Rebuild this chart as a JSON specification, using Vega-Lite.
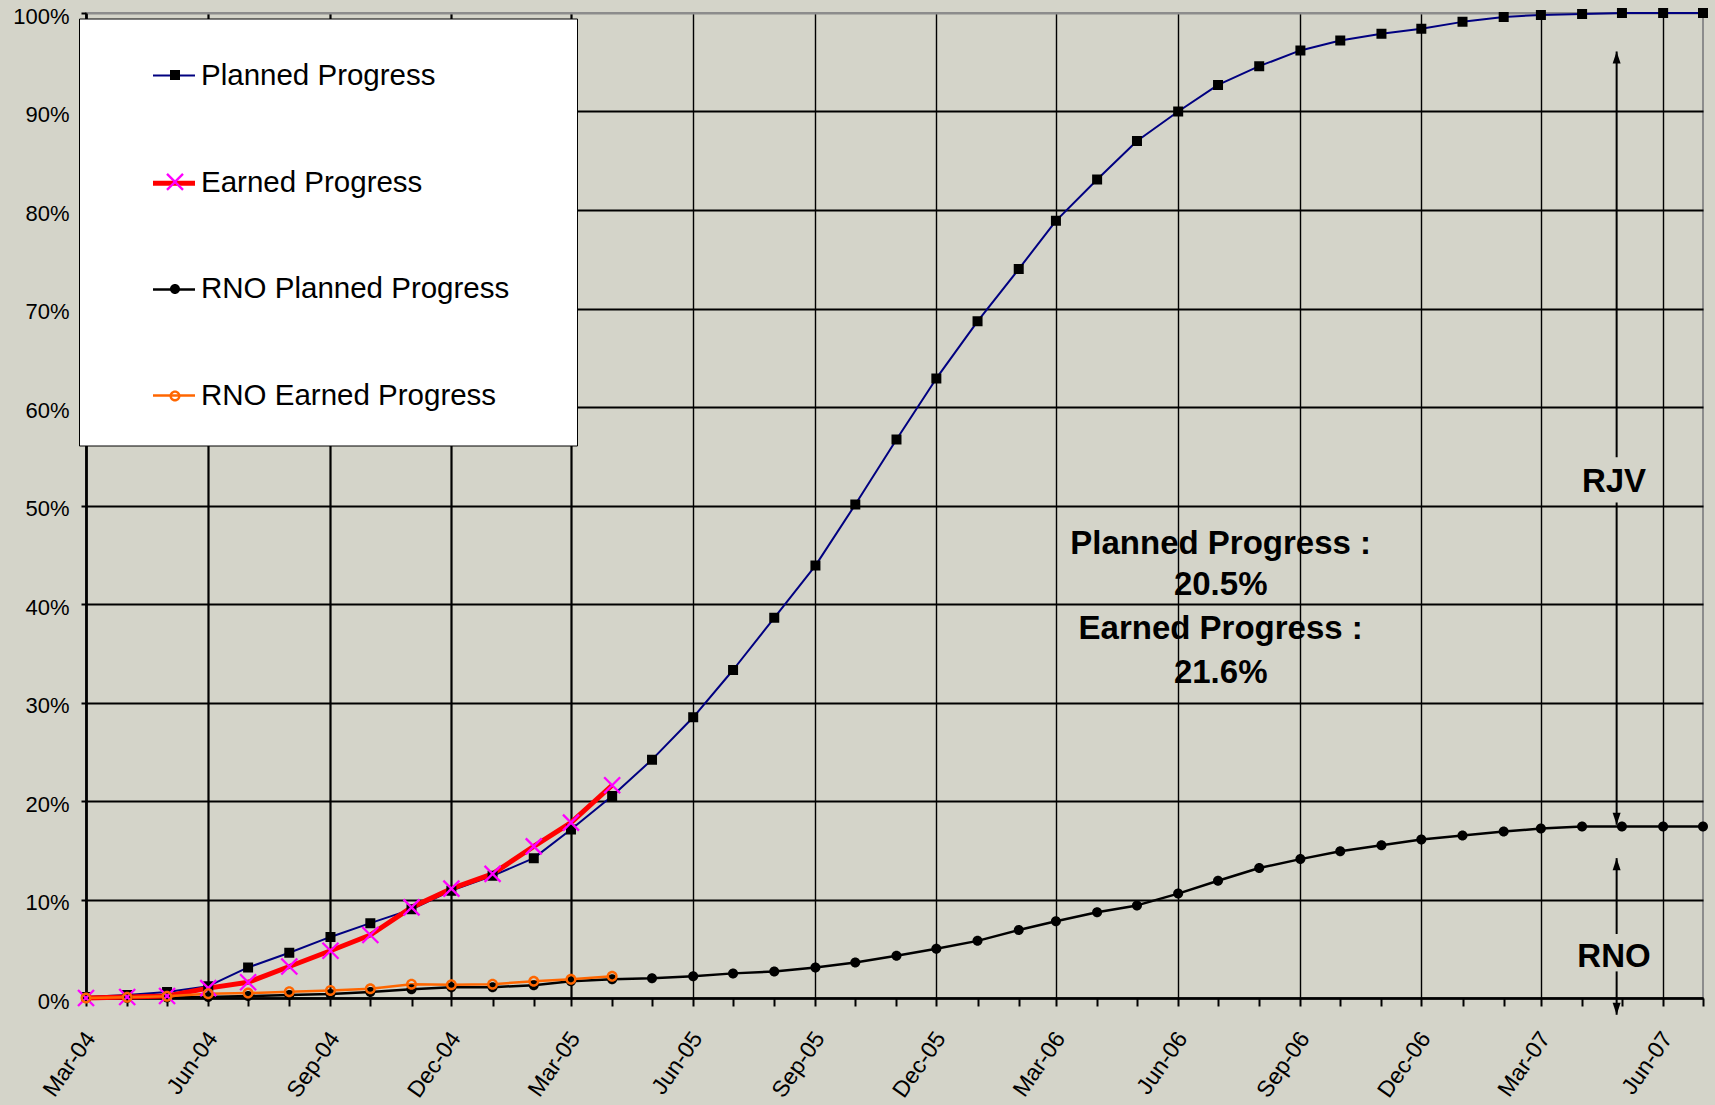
{
  "$schema": "https://vega.github.io/schema/vega-lite/v6.json",
  "width": 1617,
  "height": 985,
  "autosize": {"type": "none"},
  "padding": {"left": 86, "top": 13, "right": 12, "bottom": 107},
  "background": "#d4d4c9",
  "config": {
    "view": {"fill": "#d4d4c9", "stroke": "#8c8c8c", "strokeWidth": 2},
    "font": "Liberation Sans",
    "axis": {"labelFont": "Liberation Sans", "labelColor": "black"}
  },
  "datasets": {
    "series": [
      {"date": "2004-03-01", "series": "Planned Progress", "value": 0.001},
      {"date": "2004-04-01", "series": "Planned Progress", "value": 0.003},
      {"date": "2004-05-01", "series": "Planned Progress", "value": 0.006},
      {"date": "2004-06-01", "series": "Planned Progress", "value": 0.012},
      {"date": "2004-07-01", "series": "Planned Progress", "value": 0.031},
      {"date": "2004-08-01", "series": "Planned Progress", "value": 0.046},
      {"date": "2004-09-01", "series": "Planned Progress", "value": 0.062},
      {"date": "2004-10-01", "series": "Planned Progress", "value": 0.076},
      {"date": "2004-11-01", "series": "Planned Progress", "value": 0.090},
      {"date": "2004-12-01", "series": "Planned Progress", "value": 0.109},
      {"date": "2005-01-01", "series": "Planned Progress", "value": 0.124},
      {"date": "2005-02-01", "series": "Planned Progress", "value": 0.142},
      {"date": "2005-03-01", "series": "Planned Progress", "value": 0.171},
      {"date": "2005-04-01", "series": "Planned Progress", "value": 0.205},
      {"date": "2005-05-01", "series": "Planned Progress", "value": 0.242},
      {"date": "2005-06-01", "series": "Planned Progress", "value": 0.285},
      {"date": "2005-07-01", "series": "Planned Progress", "value": 0.333},
      {"date": "2005-08-01", "series": "Planned Progress", "value": 0.386},
      {"date": "2005-09-01", "series": "Planned Progress", "value": 0.439},
      {"date": "2005-10-01", "series": "Planned Progress", "value": 0.501},
      {"date": "2005-11-01", "series": "Planned Progress", "value": 0.567},
      {"date": "2005-12-01", "series": "Planned Progress", "value": 0.629},
      {"date": "2006-01-01", "series": "Planned Progress", "value": 0.687},
      {"date": "2006-02-01", "series": "Planned Progress", "value": 0.740},
      {"date": "2006-03-01", "series": "Planned Progress", "value": 0.789},
      {"date": "2006-04-01", "series": "Planned Progress", "value": 0.831},
      {"date": "2006-05-01", "series": "Planned Progress", "value": 0.870},
      {"date": "2006-06-01", "series": "Planned Progress", "value": 0.900},
      {"date": "2006-07-01", "series": "Planned Progress", "value": 0.927},
      {"date": "2006-08-01", "series": "Planned Progress", "value": 0.946},
      {"date": "2006-09-01", "series": "Planned Progress", "value": 0.962},
      {"date": "2006-10-01", "series": "Planned Progress", "value": 0.972},
      {"date": "2006-11-01", "series": "Planned Progress", "value": 0.979},
      {"date": "2006-12-01", "series": "Planned Progress", "value": 0.984},
      {"date": "2007-01-01", "series": "Planned Progress", "value": 0.991},
      {"date": "2007-02-01", "series": "Planned Progress", "value": 0.996},
      {"date": "2007-03-01", "series": "Planned Progress", "value": 0.998},
      {"date": "2007-04-01", "series": "Planned Progress", "value": 0.999},
      {"date": "2007-05-01", "series": "Planned Progress", "value": 1.0},
      {"date": "2007-06-01", "series": "Planned Progress", "value": 1.0},
      {"date": "2007-07-01", "series": "Planned Progress", "value": 1.0},
      {"date": "2004-03-01", "series": "RNO Planned Progress", "value": 0.0},
      {"date": "2004-04-01", "series": "RNO Planned Progress", "value": 0.0},
      {"date": "2004-05-01", "series": "RNO Planned Progress", "value": 0.0005},
      {"date": "2004-06-01", "series": "RNO Planned Progress", "value": 0.001},
      {"date": "2004-07-01", "series": "RNO Planned Progress", "value": 0.002},
      {"date": "2004-08-01", "series": "RNO Planned Progress", "value": 0.003},
      {"date": "2004-09-01", "series": "RNO Planned Progress", "value": 0.004},
      {"date": "2004-10-01", "series": "RNO Planned Progress", "value": 0.006},
      {"date": "2004-11-01", "series": "RNO Planned Progress", "value": 0.009},
      {"date": "2004-12-01", "series": "RNO Planned Progress", "value": 0.011},
      {"date": "2005-01-01", "series": "RNO Planned Progress", "value": 0.011},
      {"date": "2005-02-01", "series": "RNO Planned Progress", "value": 0.013},
      {"date": "2005-03-01", "series": "RNO Planned Progress", "value": 0.017},
      {"date": "2005-04-01", "series": "RNO Planned Progress", "value": 0.019},
      {"date": "2005-05-01", "series": "RNO Planned Progress", "value": 0.020},
      {"date": "2005-06-01", "series": "RNO Planned Progress", "value": 0.022},
      {"date": "2005-07-01", "series": "RNO Planned Progress", "value": 0.025},
      {"date": "2005-08-01", "series": "RNO Planned Progress", "value": 0.027},
      {"date": "2005-09-01", "series": "RNO Planned Progress", "value": 0.031},
      {"date": "2005-10-01", "series": "RNO Planned Progress", "value": 0.036},
      {"date": "2005-11-01", "series": "RNO Planned Progress", "value": 0.043},
      {"date": "2005-12-01", "series": "RNO Planned Progress", "value": 0.050},
      {"date": "2006-01-01", "series": "RNO Planned Progress", "value": 0.058},
      {"date": "2006-02-01", "series": "RNO Planned Progress", "value": 0.069},
      {"date": "2006-03-01", "series": "RNO Planned Progress", "value": 0.078},
      {"date": "2006-04-01", "series": "RNO Planned Progress", "value": 0.087},
      {"date": "2006-05-01", "series": "RNO Planned Progress", "value": 0.094},
      {"date": "2006-06-01", "series": "RNO Planned Progress", "value": 0.106},
      {"date": "2006-07-01", "series": "RNO Planned Progress", "value": 0.119},
      {"date": "2006-08-01", "series": "RNO Planned Progress", "value": 0.132},
      {"date": "2006-09-01", "series": "RNO Planned Progress", "value": 0.141},
      {"date": "2006-10-01", "series": "RNO Planned Progress", "value": 0.149},
      {"date": "2006-11-01", "series": "RNO Planned Progress", "value": 0.155},
      {"date": "2006-12-01", "series": "RNO Planned Progress", "value": 0.161},
      {"date": "2007-01-01", "series": "RNO Planned Progress", "value": 0.165},
      {"date": "2007-02-01", "series": "RNO Planned Progress", "value": 0.169},
      {"date": "2007-03-01", "series": "RNO Planned Progress", "value": 0.172},
      {"date": "2007-04-01", "series": "RNO Planned Progress", "value": 0.174},
      {"date": "2007-05-01", "series": "RNO Planned Progress", "value": 0.174},
      {"date": "2007-06-01", "series": "RNO Planned Progress", "value": 0.174},
      {"date": "2007-07-01", "series": "RNO Planned Progress", "value": 0.174},
      {"date": "2004-03-01", "series": "Earned Progress", "value": 0.0},
      {"date": "2004-04-01", "series": "Earned Progress", "value": 0.001},
      {"date": "2004-05-01", "series": "Earned Progress", "value": 0.002},
      {"date": "2004-06-01", "series": "Earned Progress", "value": 0.010},
      {"date": "2004-07-01", "series": "Earned Progress", "value": 0.016},
      {"date": "2004-08-01", "series": "Earned Progress", "value": 0.032},
      {"date": "2004-09-01", "series": "Earned Progress", "value": 0.048},
      {"date": "2004-10-01", "series": "Earned Progress", "value": 0.064},
      {"date": "2004-11-01", "series": "Earned Progress", "value": 0.092},
      {"date": "2004-12-01", "series": "Earned Progress", "value": 0.111},
      {"date": "2005-01-01", "series": "Earned Progress", "value": 0.126},
      {"date": "2005-02-01", "series": "Earned Progress", "value": 0.154},
      {"date": "2005-03-01", "series": "Earned Progress", "value": 0.178},
      {"date": "2005-04-01", "series": "Earned Progress", "value": 0.216},
      {"date": "2004-03-01", "series": "RNO Earned Progress", "value": 0.0},
      {"date": "2004-04-01", "series": "RNO Earned Progress", "value": 0.0007},
      {"date": "2004-05-01", "series": "RNO Earned Progress", "value": 0.0017},
      {"date": "2004-06-01", "series": "RNO Earned Progress", "value": 0.0044},
      {"date": "2004-07-01", "series": "RNO Earned Progress", "value": 0.005},
      {"date": "2004-08-01", "series": "RNO Earned Progress", "value": 0.0064},
      {"date": "2004-09-01", "series": "RNO Earned Progress", "value": 0.0077},
      {"date": "2004-10-01", "series": "RNO Earned Progress", "value": 0.0094},
      {"date": "2004-11-01", "series": "RNO Earned Progress", "value": 0.014},
      {"date": "2004-12-01", "series": "RNO Earned Progress", "value": 0.0135},
      {"date": "2005-01-01", "series": "RNO Earned Progress", "value": 0.014},
      {"date": "2005-02-01", "series": "RNO Earned Progress", "value": 0.017},
      {"date": "2005-03-01", "series": "RNO Earned Progress", "value": 0.019},
      {"date": "2005-04-01", "series": "RNO Earned Progress", "value": 0.022}
    ],
    "arrows": [
      {"date": "2007-04-27", "y1": 0.549, "y2": 0.961, "tip": 0.961, "head": "up"},
      {"date": "2007-04-27", "y1": 0.176, "y2": 0.503, "tip": 0.176, "head": "down"},
      {"date": "2007-04-27", "y1": 0.065, "y2": 0.142, "tip": 0.142, "head": "up"},
      {"date": "2007-04-27", "y1": -0.017, "y2": 0.027, "tip": -0.017, "head": "down"}
    ],
    "notes": [
      {"date": "2006-07-03", "y": 0.461, "text": "Planned Progress :"},
      {"date": "2006-07-03", "y": 0.419, "text": "20.5%"},
      {"date": "2006-07-03", "y": 0.375, "text": "Earned Progress :"},
      {"date": "2006-07-03", "y": 0.330, "text": "21.6%"},
      {"date": "2007-04-25", "y": 0.524, "text": "RJV"},
      {"date": "2007-04-25", "y": 0.042, "text": "RNO"}
    ]
  },
  "layer": [
    {
      "data": {"name": "series"},
      "mark": {"type": "line", "strokeJoin": "round"},
      "encoding": {
        "x": {
          "field": "date", "type": "temporal",
          "scale": {"type": "utc", "domain": [{"year": 2004, "month": 3, "date": 1, "utc": true}, {"year": 2007, "month": 7, "date": 1, "utc": true}]},
          "axis": {
            "title": null,
            "tickCount": {"interval": "month", "step": 1},
            "labelExpr": "utcmonth(datum.value) % 3 == 2 ? utcFormat(datum.value, '%b-%y') : ''",
            "labelOverlap": false,
            "labelAngle": -55,
            "labelFontSize": 23,
            "labelPadding": 28,
            "labelOffset": 4,
            "labelColor": "black",
            "domainColor": "black",
            "domainWidth": 2.5,
            "tickColor": "black",
            "tickWidth": 2,
            "tickSize": 8,
            "grid": true,
            "gridColor": "black",
            "gridOpacity": {"condition": {"test": "utcmonth(datum.value) % 3 == 2", "value": 1}, "value": 0},
            "gridWidth": {"condition": {"test": "datum.value < utc(2005, 3, 15)", "value": 2.2}, "value": 1.4}
          }
        },
        "y": {
          "field": "value", "type": "quantitative",
          "scale": {"domain": [0, 1], "nice": false, "zero": false},
          "axis": {
            "title": null,
            "values": [0, 0.1, 0.2, 0.3, 0.4, 0.5, 0.6, 0.7, 0.8, 0.9, 1],
            "format": ".0%",
            "labelFontSize": 22,
            "labelPadding": 12,
            "labelOffset": 3,
            "labelColor": "black",
            "tickSize": 5,
            "tickWidth": 2,
            "tickColor": "black",
            "domainColor": "black",
            "domainWidth": 2.5,
            "grid": true,
            "gridWidth": 2,
            "gridColor": {"condition": {"test": "datum.value >= 1", "value": "#8c8c8c"}, "value": "black"}
          }
        },
        "stroke": {
          "field": "series", "type": "nominal",
          "scale": {"domain": ["Planned Progress", "Earned Progress", "RNO Planned Progress", "RNO Earned Progress"], "range": ["#000080", "#ff0000", "#000000", "#ff6600"]},
          "legend": {
            "orient": "none", "legendX": -7, "legendY": 5.5,
            "title": "_", "titleOrient": "right", "titleFontSize": 12, "titleOpacity": 0, "titlePadding": 25.5,
            "fillColor": "white", "strokeColor": "black",
            "padding": 35, "rowPadding": 69.2,
            "symbolType": "stroke", "symbolSize": 1764, "symbolOffset": 36.5,
            "labelOffset": 3.5, "labelFontSize": 29.5, "labelFont": "Liberation Sans", "labelColor": "black", "labelLimit": 0,
            "zindex": 1
          }
        },
        "strokeWidth": {
          "field": "series", "type": "nominal",
          "scale": {"type": "ordinal", "domain": ["Planned Progress", "Earned Progress", "RNO Planned Progress", "RNO Earned Progress"], "range": [2, 5, 2.5, 2.5]},
          "legend": {
            "orient": "none", "legendX": -7, "legendY": 5.5,
            "title": "_", "titleOrient": "right", "titleFontSize": 12, "titleOpacity": 0, "titlePadding": 25.5,
            "fillColor": "white", "strokeColor": "black",
            "padding": 35, "rowPadding": 69.2,
            "symbolType": "stroke", "symbolSize": 1764, "symbolOffset": 36.5,
            "labelOffset": 3.5, "labelFontSize": 29.5, "labelFont": "Liberation Sans", "labelColor": "black", "labelLimit": 0,
            "zindex": 1
          }
        }
      }
    },
    {
      "data": {"name": "series"},
      "mark": {"type": "point", "filled": true, "size": 100, "opacity": 1, "strokeWidth": 0},
      "encoding": {
        "x": {"field": "date", "type": "temporal"},
        "y": {"field": "value", "type": "quantitative"},
        "shape": {
          "field": "series", "type": "nominal",
          "scale": {
            "domain": ["Earned Progress", "Planned Progress", "RNO Earned Progress", "RNO Planned Progress"],
            "range": [
              "M-1.437,-1.763L1.763,1.437L1.437,1.763L-1.763,-1.437ZM-1.763,1.437L1.437,-1.763L1.763,-1.437L-1.437,1.763Z",
              "M-1,-1H1V1H-1ZM0,-1.763L0,-1.763ZM0,1.763L0,1.763Z",
              "M-1.1,0A1.1 1.1 0 1 1 1.1,0A1.1 1.1 0 1 1 -1.1,0ZM-0.62,0A0.62 0.62 0 1 0 0.62,0A0.62 0.62 0 1 0 -0.62,0ZM0,-1.763L0,-1.763ZM0,1.763L0,1.763Z",
              "M-1,0A1 1 0 1 1 1,0A1 1 0 1 1 -1,0ZM0,-1.763L0,-1.763ZM0,1.763L0,1.763Z"
            ]
          },
          "legend": {
            "orient": "none", "legendX": -7, "legendY": 21.9, "title": null,
            "values": ["Planned Progress", "Earned Progress", "RNO Planned Progress", "RNO Earned Progress"],
            "padding": 34, "rowPadding": 83,
            "symbolSize": 100, "symbolOffset": 56,
            "labelExpr": "''", "labelFontSize": 1, "labelOffset": 0, "labelLimit": 0,
            "zindex": 2
          }
        },
        "fill": {
          "field": "series", "type": "nominal",
          "scale": {
            "domain": ["Earned Progress", "Planned Progress", "RNO Earned Progress", "RNO Planned Progress"],
            "range": ["#ff00ff", "#000000", "#ff6600", "#000000"]
          },
          "legend": {
            "orient": "none", "legendX": -7, "legendY": 21.9, "title": null,
            "values": ["Planned Progress", "Earned Progress", "RNO Planned Progress", "RNO Earned Progress"],
            "padding": 34, "rowPadding": 83,
            "symbolSize": 100, "symbolOffset": 56,
            "labelExpr": "''", "labelFontSize": 1, "labelOffset": 0, "labelLimit": 0,
            "zindex": 2
          }
        }
      }
    },
    {
      "data": {"name": "arrows"},
      "mark": {"type": "rule", "color": "black", "strokeWidth": 2},
      "encoding": {
        "x": {"field": "date", "type": "temporal"},
        "y": {"field": "y1", "type": "quantitative"},
        "y2": {"field": "y2"}
      }
    },
    {
      "data": {"name": "arrows"},
      "transform": [{"filter": "datum.head == 'up'"}],
      "mark": {"type": "point", "shape": "M0,0L-0.8,2.4L0.8,2.4Z", "filled": true, "fill": "black", "size": 100, "opacity": 1, "strokeWidth": 0},
      "encoding": {
        "x": {"field": "date", "type": "temporal"},
        "y": {"field": "tip", "type": "quantitative"}
      }
    },
    {
      "data": {"name": "arrows"},
      "transform": [{"filter": "datum.head == 'down'"}],
      "mark": {"type": "point", "shape": "M0,0L-0.8,-2.4L0.8,-2.4Z", "filled": true, "fill": "black", "size": 100, "opacity": 1, "strokeWidth": 0},
      "encoding": {
        "x": {"field": "date", "type": "temporal"},
        "y": {"field": "tip", "type": "quantitative"}
      }
    },
    {
      "data": {"name": "notes"},
      "mark": {"type": "text", "font": "Liberation Sans", "fontWeight": "bold", "fontSize": 33, "color": "black", "align": "center", "baseline": "middle"},
      "encoding": {
        "x": {"field": "date", "type": "temporal"},
        "y": {"field": "y", "type": "quantitative"},
        "text": {"field": "text"}
      }
    }
  ]
}
